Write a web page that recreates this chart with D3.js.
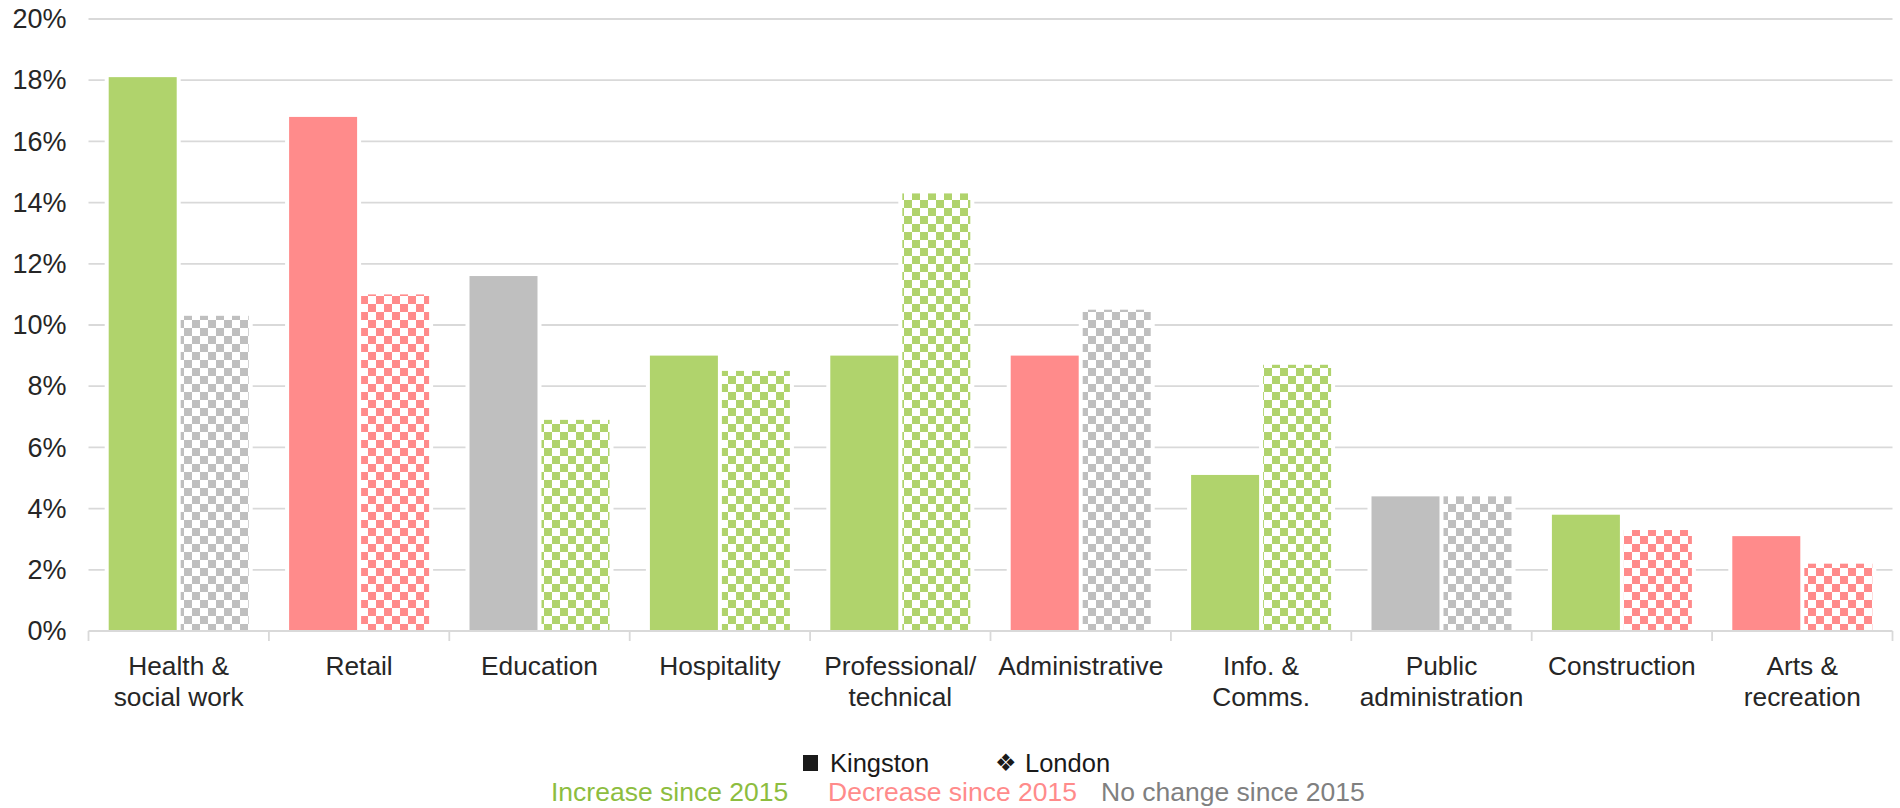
<!DOCTYPE html>
<html>
<head>
<meta charset="utf-8">
<script src="https://cdn.jsdelivr.net/npm/d3@7/dist/d3.min.js"></script>
<style>
  html, body { margin: 0; padding: 0; background: #fff; }
  svg text { font-family: "Liberation Sans", Arial, Helvetica, sans-serif; }
</style>
</head>
<body>
<svg id="chart" width="1900" height="808"></svg>
<script>
// Share of employment by industry, Kingston vs London
const categories = [
  ["Health &", "social work"],
  ["Retail"],
  ["Education"],
  ["Hospitality"],
  ["Professional/", "technical"],
  ["Administrative"],
  ["Info. &", "Comms."],
  ["Public", "administration"],
  ["Construction"],
  ["Arts &", "recreation"]
];
const kingston = [18.1, 16.8, 11.6, 9.0, 9.0, 9.0, 5.1, 4.4, 3.8, 3.1];
const london   = [10.3, 11.0, 6.9, 8.5, 14.3, 10.5, 8.7, 4.4, 3.3, 2.2];
// Change since 2015: "up", "down" or "same"
const kingstonChange = ["up", "down", "same", "up", "up", "down", "up", "same", "up", "down"];
const londonChange   = ["same", "down", "up", "up", "up", "same", "up", "same", "down", "down"];
const yTicks = [0, 2, 4, 6, 8, 10, 12, 14, 16, 18, 20];
const seriesNames = ["Kingston", "London"];
const changeLegend = [
  { key: "up", label: "Increase since 2015" },
  { key: "down", label: "Decrease since 2015" },
  { key: "same", label: "No change since 2015" }
];

const barColour = { up: "#B0D36C", down: "#FF8B8B", same: "#BFBFBF" };
const textColour = { up: "#8DBD3F", down: "#FF8B8B", same: "#808080" };

const svg = d3.select("#chart");
const plotLeft = 88.5, plotRight = 1892.5, plotTop = 19, plotBottom = 631;

const x = d3.scaleBand()
  .domain(d3.range(categories.length))
  .range([plotLeft, plotRight])
  .paddingInner(0).paddingOuter(0);

// 68px bars with a 4px gap inside each ~180px category
const step = 72;
const inner = d3.scaleBand()
  .domain(seriesNames)
  .range([0, x.bandwidth()])
  .paddingInner(4 / step)
  .paddingOuter((x.bandwidth() / step - 2 + 4 / step) / 2);

const y = d3.scaleLinear().domain([0, 20]).range([plotBottom, plotTop]);

// Checkerboard fills for the London bars
const defs = svg.append("defs");
Object.entries(barColour).forEach(([k, c]) => {
  const p = defs.append("pattern")
    .attr("id", "check-" + k)
    .attr("patternUnits", "userSpaceOnUse")
    .attr("width", 16).attr("height", 16);
  p.append("rect").attr("width", 16).attr("height", 16).attr("fill", "#fff");
  p.append("rect").attr("width", 8).attr("height", 8).attr("fill", c);
  p.append("rect").attr("x", 8).attr("y", 8).attr("width", 8).attr("height", 8).attr("fill", c);
});

// Gridlines
svg.append("g").selectAll("line")
  .data(yTicks.filter(d => d > 0))
  .join("line")
  .attr("x1", plotLeft).attr("x2", plotRight)
  .attr("y1", d => y(d)).attr("y2", d => y(d))
  .attr("stroke", "#D9D9D9").attr("stroke-width", 1.8);

// Y axis labels
const yAxis = svg.append("g")
  .attr("transform", `translate(${plotLeft - 22},0)`)
  .call(d3.axisLeft(y).tickValues(yTicks).tickFormat(d => d + "%").tickSize(0).tickPadding(0));
yAxis.select(".domain").remove();
yAxis.selectAll("text")
  .attr("font-size", 27)
  .attr("fill", "#262626")
  .style("font-family", '"Liberation Sans", Arial, sans-serif');

// Bars
const rows = categories.map((c, i) => [
  { s: "Kingston", v: kingston[i], ch: kingstonChange[i], i },
  { s: "London", v: london[i], ch: londonChange[i], i }
]).flat();

const bars = svg.append("g");
// white halo that breaks the gridlines around each bar
bars.selectAll("rect.halo")
  .data(rows)
  .join("rect")
  .attr("class", "halo")
  .attr("x", d => x(d.i) + inner(d.s) - 4)
  .attr("y", d => y(d.v) - 4)
  .attr("width", inner.bandwidth() + 8)
  .attr("height", d => y(0) - y(d.v) + 4)
  .attr("fill", "#fff");
bars.selectAll("rect.bar")
  .data(rows)
  .join("rect")
  .attr("class", "bar")
  .attr("x", d => x(d.i) + inner(d.s))
  .attr("y", d => y(d.v))
  .attr("width", inner.bandwidth())
  .attr("height", d => y(0) - y(d.v) - 1)
  .attr("fill", d => d.s === "Kingston" ? barColour[d.ch] : `url(#check-${d.ch})`);

// Category axis: baseline and boundary ticks
const axisG = svg.append("g");
axisG.append("line")
  .attr("x1", plotLeft).attr("x2", plotRight)
  .attr("y1", plotBottom).attr("y2", plotBottom)
  .attr("stroke", "#D9D9D9").attr("stroke-width", 1.8);
axisG.selectAll("line.tick")
  .data(d3.range(categories.length + 1))
  .join("line")
  .attr("class", "tick")
  .attr("x1", d => plotLeft + d * x.step()).attr("x2", d => plotLeft + d * x.step())
  .attr("y1", plotBottom).attr("y2", plotBottom + 10)
  .attr("stroke", "#D9D9D9").attr("stroke-width", 1.8);

const labels = axisG.selectAll("text.cat")
  .data(categories)
  .join("text")
  .attr("class", "cat")
  .attr("text-anchor", "middle")
  .attr("font-size", 26.3)
  .attr("fill", "#262626");
labels.selectAll("tspan")
  .data((d, i) => d.map(line => ({ line, i })))
  .join("tspan")
  .attr("x", d => x(d.i) + x.bandwidth() / 2)
  .attr("y", (d, j) => 675 + j * 31)
  .text(d => d.line);

// Series legend
const leg = svg.append("g").attr("font-size", 25.5).attr("fill", "#1a1a1a");
leg.append("rect").attr("x", 803).attr("y", 755).attr("width", 15).attr("height", 16).attr("fill", "#1a1a1a");
leg.append("text").attr("x", 830).attr("y", 772).text(seriesNames[0]);
leg.append("text").attr("x", 995).attr("y", 771).attr("font-size", 24)
  .style("font-family", '"DejaVu Sans", sans-serif').text("\u2756");
leg.append("text").attr("x", 1025).attr("y", 772).text(seriesNames[1]);

// Colour legend
const colLeg = svg.append("g").attr("font-size", 26.5);
const colX = [551, 828, 1101];
colLeg.selectAll("text")
  .data(changeLegend)
  .join("text")
  .attr("x", (d, i) => colX[i])
  .attr("y", 801)
  .attr("fill", d => textColour[d.key])
  .text(d => d.label);
</script>
</body>
</html>
